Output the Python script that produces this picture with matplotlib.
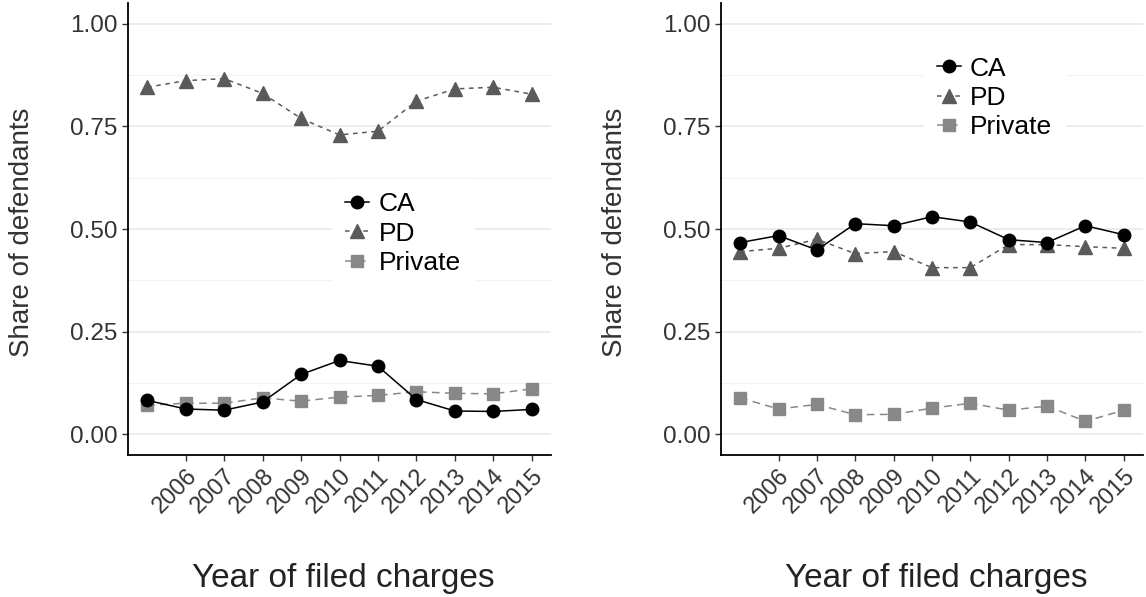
import numpy as np
import matplotlib as mpl
mpl.use('Agg')
import matplotlib.pyplot as plt
from matplotlib.ticker import MultipleLocator

plt.rcParams['font.family'] = ['Liberation Sans', 'DejaVu Sans']

years = [2005, 2006, 2007, 2008, 2009, 2010, 2011, 2012, 2013, 2014, 2015]
tick_years = years[1:]
ytick_vals = [0, 0.25, 0.5, 0.75, 1.0]
ytick_labels = ['0.00', '0.25', '0.50', '0.75', '1.00']

# left panel
ca_left = [0.083, 0.062, 0.059, 0.079, 0.146, 0.180, 0.166, 0.085, 0.057, 0.056, 0.061]
pd_left = [0.845, 0.861, 0.866, 0.830, 0.769, 0.729, 0.738, 0.811, 0.841, 0.845, 0.828]
priv_left = [0.071, 0.076, 0.076, 0.089, 0.081, 0.091, 0.095, 0.104, 0.100, 0.099, 0.111]

# right panel
ca_right = [0.467, 0.484, 0.449, 0.513, 0.508, 0.530, 0.517, 0.474, 0.467, 0.508, 0.486]
pd_right = [0.445, 0.453, 0.475, 0.440, 0.445, 0.406, 0.406, 0.462, 0.462, 0.457, 0.453]
priv_right = [0.089, 0.062, 0.073, 0.048, 0.049, 0.064, 0.076, 0.059, 0.069, 0.032, 0.059]

W, H = 1146, 597
fig = plt.figure(figsize=(W/100, H/100), dpi=100)

def panel(left_px, right_px, ca, pd_, priv, leg_loc):
    bottom = (H - 455) / H
    top = (H - 3) / H
    ax = fig.add_axes([left_px/W, bottom, (right_px-left_px)/W, top-bottom])
    ax.plot(years, ca, color='black', linestyle='-', linewidth=1.1,
            marker='o', markersize=9, label='CA', zorder=3)
    ax.plot(years, pd_, color='#5a5a5a', linestyle=(0, (3, 3)), linewidth=1.1,
            marker='^', markersize=10, label='PD', zorder=2)
    ax.plot(years, priv, color='#888888', linestyle=(0, (5, 3.5)), linewidth=1.1,
            marker='s', markersize=8.5, label='Private', zorder=1)
    ax.set_xlim(2004.5, 2015.5)
    ax.set_ylim(-0.05, 1.05)
    ax.yaxis.set_minor_locator(MultipleLocator(0.125))
    ax.set_yticks(ytick_vals)
    ax.set_yticklabels(ytick_labels)
    ax.set_xticks(tick_years)
    ax.set_xticklabels([str(y) for y in tick_years], rotation=45,
                       ha='right', va='top', rotation_mode='anchor')
    ax.grid(True, axis='y', which='major', color='#ebebeb', linewidth=1.3)
    ax.grid(True, axis='y', which='minor', color='#f2f2f2', linewidth=0.8)
    ax.set_axisbelow(True)
    for s in ['top', 'right']:
        ax.spines[s].set_visible(False)
    for s in ['left', 'bottom']:
        ax.spines[s].set_linewidth(1.3)
        ax.spines[s].set_color('black')
    ax.tick_params(axis='y', which='major', labelsize=17.5, colors='#333333',
                   length=4, width=1)
    ax.tick_params(axis='x', which='major', labelsize=17, colors='#333333',
                   length=4, width=1, pad=3)
    ax.tick_params(axis='y', which='minor', length=0)
    leg = ax.legend(loc='center', bbox_to_anchor=leg_loc, frameon=True,
                    fontsize=19, handlelength=0.9, handletextpad=0.35,
                    labelspacing=0.2, borderpad=0.5, fancybox=False)
    leg.get_frame().set_edgecolor('white')
    leg.get_frame().set_facecolor('white')
    leg.get_frame().set_alpha(1.0)
    cx = (left_px + right_px) / 2 + 4
    fig.text(cx/W, 10/H, 'Year of filed charges', fontsize=24,
             color='#222222', ha='center', va='baseline')
    fig.text((left_px - 106)/W, (H - 232)/H, 'Share of defendants',
             fontsize=20, color='#333333', rotation=90,
             ha='center', va='center')
    return ax

panel(128, 551, ca_left, pd_left, priv_left, (0.65, 0.49))
panel(721, 1143, ca_right, pd_right, priv_right, (0.648, 0.79))

fig.savefig('out.png', dpi=100)
